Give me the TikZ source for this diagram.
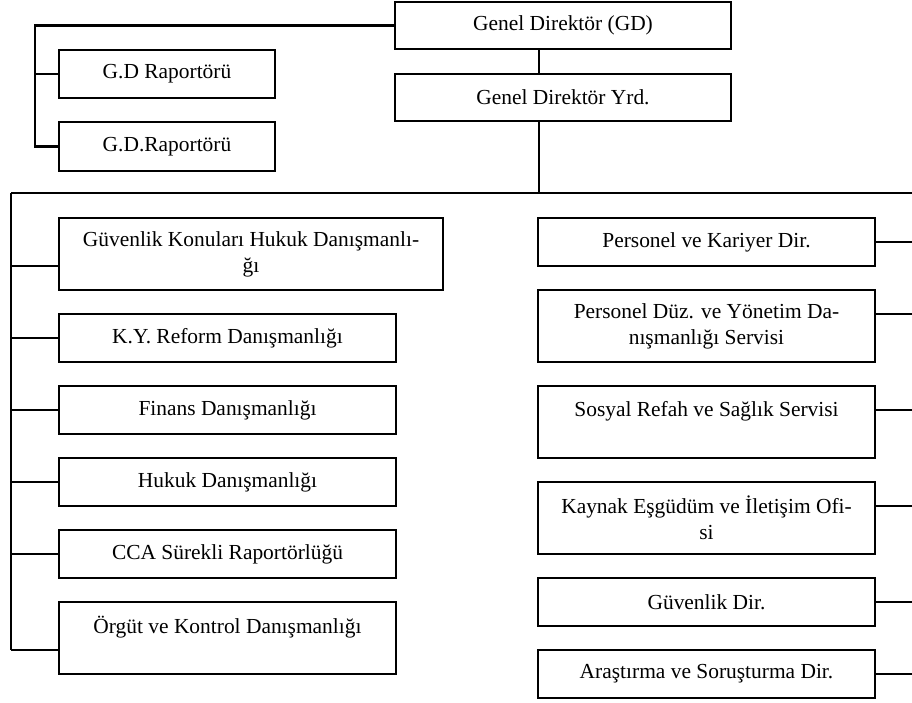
\documentclass[tikz,border=0pt]{standalone}
\usepackage{fontspec}
\setmainfont{Liberation Serif}
\usetikzlibrary{positioning,calc}
\newcommand{\pxu}{0.56pt}
\newcommand{\gap}{13.44pt}

\begin{document}
\begin{tikzpicture}[
  x=\pxu, y=-\pxu, line width=1.2pt,
  every node/.style={font=\fontsize{12}{14.6}\selectfont},
  unit/.style={draw, fill=white, inner sep=0pt, outer sep=0pt, align=center,
    minimum height=48*\pxu, minimum width=337*\pxu},
  tall/.style={unit, minimum height=72*\pxu}
]
  \useasboundingbox (0,0) rectangle (912,702);

  % Director and deputy
  \node[unit, minimum width=336*\pxu, minimum height=47*\pxu, anchor=north west] (gd) at (395,2) {Genel Direktör (GD)};
  \node[unit, minimum width=336*\pxu, minimum height=47*\pxu, below right=14pt and 0pt of gd.south west] (yrd) {Genel Direktör Yrd.};

  % Rapporteurs
  \node[unit, minimum width=216*\pxu, anchor=north west] (rap1) at (59,50) {G.D Raportörü};
  \node[unit, minimum width=216*\pxu, minimum height=49*\pxu, below right=\gap and 0pt of rap1.south west] (rap2) {G.D.Raportörü};

  % Left column
  \node[tall, minimum width=384*\pxu, anchor=north west] (l1) at (59,218) {Güvenlik Konuları Hukuk Danışmanlı-\\ğı};
  \node[unit, below right=\gap and 0pt of l1.south west] (l2) {K.Y. Reform Danışmanlığı};
  \node[unit, below right=\gap and 0pt of l2.south west] (l3) {Finans Danışmanlığı};
  \node[unit, below right=\gap and 0pt of l3.south west] (l4) {Hukuk Danışmanlığı};
  \node[unit, below right=\gap and 0pt of l4.south west] (l5) {CCA Sürekli Raportörlüğü};
  \node[tall, below right=\gap and 0pt of l5.south west] (l6) {Örgüt ve Kontrol Danışmanlığı\\\mbox{}};

  % Right column
  \node[unit, anchor=north west] (r1) at (538,218) {Personel ve Kariyer Dir.};
  \node[tall, below right=\gap and 0pt of r1.south west] (r2) {Personel Düz. ve Yönetim Da-\\nışmanlığı Servisi};
  \node[tall, below right=\gap and 0pt of r2.south west] (r3) {Sosyal Refah ve Sağlık Servisi\\\mbox{}};
  \node[tall, below right=\gap and 0pt of r3.south west] (r4) {Kaynak Eşgüdüm ve İletişim Ofi-\\si};
  \node[unit, below right=\gap and 0pt of r4.south west] (r5) {Güvenlik Dir.};
  \node[unit, below right=\gap and 0pt of r5.south west] (r6) {Araştırma ve Soruşturma Dir.};

  % Connectors
  \coordinate (trunk) at (539,193);
  \coordinate (lbar) at (11,193);
  \coordinate (rbar) at (915,193);
  \coordinate (lsp) at (35,26);
  \draw (gd.south -| trunk) -- (yrd.north -| trunk);
  \draw (yrd.south -| trunk) -- (trunk);
  \draw (lbar) -- (rbar);
  \draw (gd.west) -- (lsp |- gd.west) |- (rap2.west);
  \draw (lsp |- rap1.west) -- (rap1.west);

  \foreach \n in {l1,l2,l3,l4,l5,l6} {
    \coordinate (\n-b) at ($(\n.south west)+(0,-24)$);
    \draw (lbar |- \n-b) -- (\n-b);
  }
  \draw (lbar) -- (lbar |- l6-b);

  \foreach \n in {r1,r2,r3,r4,r5,r6} {
    \coordinate (\n-b) at ($(\n.north east)+(0,24)$);
    \draw (\n-b) -- (rbar |- \n-b);
  }
  \draw (rbar) -- (rbar |- r6-b);
\end{tikzpicture}
\end{document}
